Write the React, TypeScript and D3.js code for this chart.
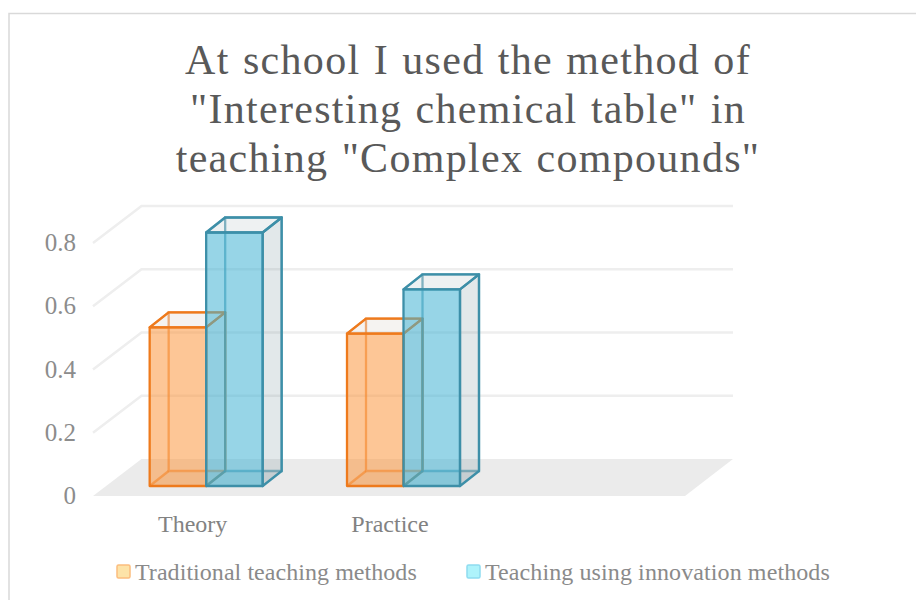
import React from "react";
import * as d3 from "d3";

const categories = ["Theory", "Practice", ""];
const traditional = [0.5, 0.48, null];
const innovation = [0.8, 0.62, null];
const yTicks = [0, 0.2, 0.4, 0.6, 0.8];
const titleLines = [
  'At school I used the method of',
  '"Interesting chemical table" in',
  'teaching "Complex compounds"',
];
const seriesNames = ["Traditional teaching methods", "Teaching using innovation methods"];

const width = 916;
const height = 600;
const font = "'Liberation Serif', serif";

// front edge of the floor and how far the back wall is pushed away
const floorLeft = 93;
const floorRight = 685;
const floorY = 496;
const depthX = 48.5;
const depthY = -37;
// bars stand a bit inside the floor, and have a smaller depth than it
const insetX = 14.5;
const insetY = -10;
const barDepthX = 19;
const barDepthY = -15;

const xScale = d3.scaleBand().domain(categories).range([floorLeft, floorRight]);
const yScale = d3.scaleLinear().domain([0, 0.8]).range([floorY, 243]);
const barWidth = 56.5;

const colors = [
  { line: "#ee7a1c", front: "rgba(251,152,64,0.55)", side: "rgba(150,150,150,0.12)", top: "rgba(200,190,180,0.18)", back: "rgba(251,152,64,0.08)" },
  { line: "#3d8fa8", front: "rgba(65,178,212,0.55)", side: "rgba(120,145,155,0.21)", top: "rgba(120,145,155,0.13)", back: "rgba(120,145,155,0.05)" },
];

const poly = (pts: number[][]) => d3.line()(pts as [number, number][]) + "Z";

function Bar({ x, value, s }: { x: number; value: number; s: number }) {
  const c = colors[s];
  const x0 = x;
  const x1 = x + barWidth;
  const y0 = yScale(0) + insetY;
  const y1 = yScale(value) + insetY - 0.5;
  const dx = barDepthX;
  const dy = barDepthY;
  const inner = { stroke: c.line, strokeWidth: 2.3, strokeOpacity: 0.65, fill: "none" };
  const outer = { stroke: c.line, strokeWidth: 2.3, strokeLinejoin: "round" as const };
  return (
    <g>
      {/* hidden faces first */}
      <path d={poly([[x0 + dx, y1 + dy], [x1 + dx, y1 + dy], [x1 + dx, y0 + dy], [x0 + dx, y0 + dy]])} fill={c.back} {...inner} />
      <path d={poly([[x0, y0], [x1, y0], [x1 + dx, y0 + dy], [x0 + dx, y0 + dy]])} fill={c.top} stroke="none" />
      <path d={d3.line()([[x0, y0], [x0 + dx, y0 + dy]])!} {...inner} />
      <path d={d3.line()([[x0, y1], [x0 + dx, y1 + dy]])!} {...inner} />
      <path d={poly([[x1, y1], [x1 + dx, y1 + dy], [x1 + dx, y0 + dy], [x1, y0]])} fill={c.side} {...outer} />
      <path d={poly([[x0, y1], [x1, y1], [x1 + dx, y1 + dy], [x0 + dx, y1 + dy]])} fill={c.top} {...outer} />
      <path d={poly([[x0, y1], [x1, y1], [x1, y0], [x0, y0]])} fill={c.front} {...outer} />
    </g>
  );
}

export default function App() {
  return (
    <svg width={width} height={height} style={{ position: "absolute", left: 0, top: 0, background: "#fff" }} fontFamily={font}>
      {/* chart frame, runs off the right and bottom of the picture */}
      <rect x={9} y={13.5} width={950} height={620} fill="none" stroke="#d9d9d9" strokeWidth={1.5} />

      {titleLines.map((t, i) => (
        <text key={i} x={468} y={74 + i * 49} textAnchor="middle" fontSize={42} fill="#595959" letterSpacing={1.3} wordSpacing={1.5}>{t}</text>
      ))}

      {/* gridlines, one bent line per tick */}
      {yTicks.filter((t) => t > 0).map((t) => (
        <path
          key={t}
          d={d3.line()([[floorLeft, yScale(t)], [floorLeft + depthX, yScale(t) + depthY], [733, yScale(t) + depthY]])!}
          fill="none"
          stroke="#eeeeee"
          strokeWidth={2.5}
        />
      ))}

      <path
        d={poly([[floorLeft, floorY], [floorLeft + depthX, floorY + depthY], [733, floorY + depthY], [floorRight, floorY]])}
        fill="#ebebeb"
      />

      {yTicks.map((t) => (
        <text key={t} x={76} y={yScale(t) + 8} textAnchor="end" fontSize={25} fill="#8c8c8c">{t}</text>
      ))}

      {categories.map((c) => (
        <text key={c} x={xScale(c)! + xScale.bandwidth() / 2 + 1} y={532} textAnchor="middle" fontSize={24} fill="#828282">{c}</text>
      ))}

      {categories.map((c, i) => {
        const center = xScale(c)! + xScale.bandwidth() / 2 + insetX;
        const a = traditional[i];
        return a == null ? null : <Bar key={c} x={center - barWidth} value={a} s={0} />;
      })}
      {categories.map((c, i) => {
        const center = xScale(c)! + xScale.bandwidth() / 2 + insetX;
        const b = innovation[i];
        return b == null ? null : <Bar key={c} x={center} value={b} s={1} />;
      })}

      <rect x={117} y={565} width={13} height={13} rx={1.5} fill="#fde3a8" stroke="#fbbd7e" strokeWidth={1.5} />
      <text x={135} y={580} fontSize={24} fill="#8a8a8a" letterSpacing={0.05}>{seriesNames[0]}</text>
      <rect x={467} y={565} width={13} height={13} rx={1.5} fill="#aef3fb" stroke="#8fdcf0" strokeWidth={1.5} />
      <text x={485} y={580} fontSize={24} fill="#8a8a8a" letterSpacing={0.1}>{seriesNames[1]}</text>
    </svg>
  );
}
